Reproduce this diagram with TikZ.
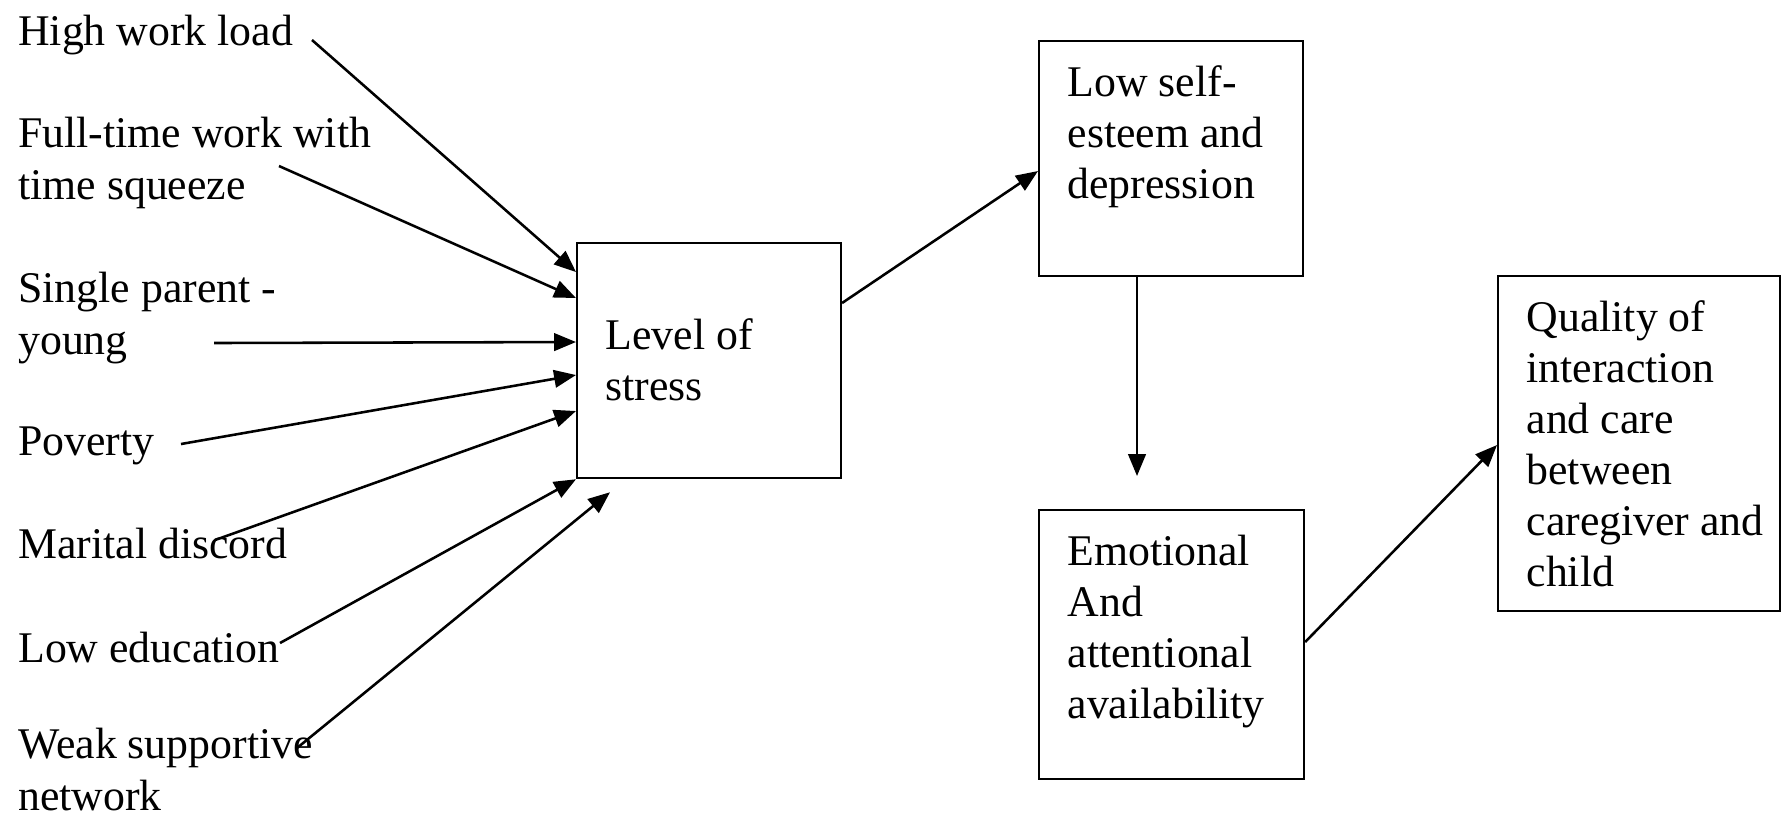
\documentclass[tikz,border=0pt]{standalone}
\usepackage{fontspec}
\setmainfont{Liberation Serif}
\usetikzlibrary{arrows.meta,calc}

\newcommand{\boxtext}[3]{\parbox[c][#2][t]{#1}{\raggedright\leftskip=7.8pt\vspace*{5.3pt}\strut #3}}

\begin{document}
\begin{tikzpicture}[x=0.274pt, y=-0.274pt,
  every node/.style={font=\fontsize{12}{14}\selectfont, inner sep=0pt},
  factor/.style={anchor=base west, align=left},
  box/.style={draw, line width=0.6pt, anchor=north west},
  >={Triangle[length=6pt,width=4.8pt]}, line width=0.7pt
]
  \useasboundingbox (0,0) rectangle (1781,818);

  % causes on the left (base = last line)
  \node[factor] (workload) at (17,45) {High work load};
  \node[factor] (fulltime) at (17,199) {Full-time work with\\time squeeze};
  \node[factor] (single) at (17,354) {Single parent -\\young};
  \node[factor] (poverty) at (17,455) {Poverty};
  \node[factor] (marital) at (17,558) {Marital discord};
  \node[factor] (lowedu) at (17,662) {Low education};
  \node[factor] (weaksup) at (17,810) {Weak supportive\\network};

  % boxes
  \node[box] (stress) at (576,242) {\boxtext{72.3pt}{64.4pt}{\\Level of\\stress}};
  \node[box] (selfest) at (1038,40) {\boxtext{72.3pt}{64.4pt}{Low self-\\esteem and\\depression}};
  \node[box] (emo) at (1038,509) {\boxtext{72.6pt}{73.7pt}{Emotional\\And\\attentional\\availability}};
  \node[box] (quality) at (1497,275) {\boxtext{77.3pt}{91.8pt}{Quality of\\interaction\\and care\\between\\caregiver and\\child}};

  % into level of stress
  \draw[->] ($(workload.base west)+(295,-5)$) -- ($(stress.north west)+(0,30)$);
  \draw[->] ($(fulltime.base west)+(262,-33)$) -- ($(stress.north west)+(0,56)$);
  \draw[->] ($(single.base west)+(197,-11)$) -- ($(stress.north west)+(0,100)$);
  \draw[->] ($(poverty.base west)+(164,-11)$) -- ($(stress.north west)+(0,133)$);
  \draw[->] ($(marital.base west)+(198,-18)$) -- ($(stress.north west)+(0,169)$);
  \draw[->] ($(lowedu.base west)+(263,-19)$) -- (stress.south west);
  \draw[->] ($(weaksup.base west)+(280,-62)$) -- ($(stress.south west)+(34,13)$);

  % chain on the right
  \draw[->] ($(stress.north east)+(0,61)$) -- ($(selfest.north west)+(0,131)$);
  \draw[->] ($(selfest.south west)+(99,0)$) -- ($(emo.north west)+(99,-33)$);
  \draw[->] ($(emo.north east)+(0,133)$) -- ($(quality.north west)+(0,170)$);
\end{tikzpicture}
\end{document}
